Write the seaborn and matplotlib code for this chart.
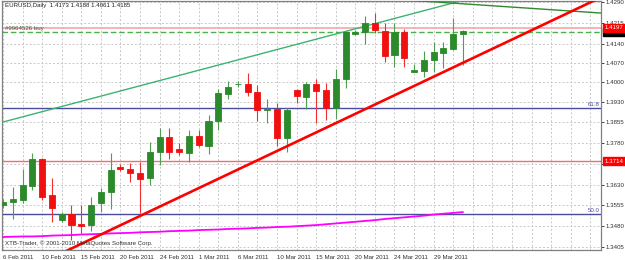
import matplotlib
matplotlib.use("Agg")
import matplotlib.pyplot as plt
import seaborn as sns
import pandas as pd
from matplotlib.transforms import blended_transform_factory

# ---------------- data ----------------
opens = [1.3557, 1.3568, 1.3575, 1.3625, 1.3723, 1.3593, 1.3502, 1.3524, 1.3488, 1.3484,
         1.3564, 1.3604, 1.3694, 1.3687, 1.3672, 1.3654, 1.3748, 1.3802, 1.3759, 1.3745,
         1.3806, 1.3770, 1.3860, 1.3958, 1.3992, 1.3994, 1.3965, 1.3900, 1.3903, 1.3799,
         1.3972, 1.3947, 1.3994, 1.3972, 1.3907, 1.4012, 1.4174, 1.4182, 1.4214, 1.4185,
         1.4099, 1.4182, 1.4037, 1.4041, 1.4080, 1.4106, 1.4120, 1.4173]
highs = [1.3579, 1.3622, 1.3687, 1.3745, 1.3726, 1.3654, 1.3531, 1.3557, 1.3557, 1.3586,
         1.3618, 1.3745, 1.3705, 1.3708, 1.3712, 1.3784, 1.3835, 1.3835, 1.3781, 1.3828,
         1.3828, 1.3882, 1.3976, 1.4005, 1.4005, 1.4034, 1.3990, 1.3940, 1.3925, 1.3907,
         1.3975, 1.4001, 1.4012, 1.3997, 1.4048, 1.4185, 1.4188, 1.4239, 1.4250, 1.4214,
         1.4214, 1.4192, 1.4066, 1.4113, 1.4145, 1.4145, 1.4232, 1.4188]
lows = [1.3546, 1.3506, 1.3564, 1.3611, 1.3575, 1.3495, 1.3495, 1.3430, 1.3455, 1.3463,
        1.3531, 1.3542, 1.3680, 1.3640, 1.3528, 1.3629, 1.3701, 1.3723, 1.3737, 1.3712,
        1.3766, 1.3741, 1.3828, 1.3940, 1.3983, 1.3950, 1.3860, 1.3853, 1.3770, 1.3748,
        1.3925, 1.3903, 1.3853, 1.3864, 1.3867, 1.3979, 1.4170, 1.4138, 1.4178, 1.4073,
        1.4055, 1.4055, 1.4037, 1.4019, 1.4037, 1.4051, 1.4117, 1.4061]
closes = [1.3568, 1.3579, 1.3629, 1.3723, 1.3586, 1.3546, 1.3524, 1.3484, 1.3481, 1.3557,
          1.3604, 1.3683, 1.3687, 1.3672, 1.3651, 1.3748, 1.3802, 1.3748, 1.3748, 1.3806,
          1.3773, 1.3860, 1.3961, 1.3983, 1.3995, 1.3965, 1.3900, 1.3904, 1.3799, 1.3900,
          1.3950, 1.3994, 1.3968, 1.3907, 1.4012, 1.4182, 1.4182, 1.4214, 1.4189, 1.4095,
          1.4182, 1.4088, 1.4044, 1.4080, 1.4109, 1.4124, 1.4174, 1.4185]
ma_values = [1.3441, 1.3442, 1.3443, 1.3443, 1.3444, 1.3446, 1.3447, 1.3448, 1.3450, 1.3451,
             1.3452, 1.3454, 1.3455, 1.3456, 1.3458, 1.3459, 1.3460, 1.3462, 1.3463, 1.3464,
             1.3466, 1.3467, 1.3468, 1.3470, 1.3471, 1.3472, 1.3474, 1.3475, 1.3477, 1.3478,
             1.3480, 1.3482, 1.3484, 1.3487, 1.3490, 1.3493, 1.3496, 1.3499, 1.3502, 1.3506,
             1.3509, 1.3512, 1.3515, 1.3518, 1.3522, 1.3525, 1.3528, 1.3531]

date_label_bars = [0, 4, 8, 12, 16, 20, 24, 28, 32, 36, 40, 44]
date_labels = ["6 Feb 2011", "10 Feb 2011", "15 Feb 2011", "20 Feb 2011", "24 Feb 2011",
               "1 Mar 2011", "6 Mar 2011", "10 Mar 2011", "15 Mar 2011", "20 Mar 2011",
               "24 Mar 2011", "29 Mar 2011"]
ytick_values = [1.4290, 1.4215, 1.4140, 1.4070, 1.4000, 1.3930, 1.3855, 1.3780,
                1.3705, 1.3630, 1.3555, 1.3480, 1.3405]
ytick_labels = ["1.4290", "1.4215", "1.4140", "1.4070", "1.4000", "1.3930", "1.3855", "1.3780",
                "", "1.3630", "1.3555", "1.3480", "1.3405"]

header_text = "EURUSD,Daily  1.4173 1.4188 1.4061 1.4185"
order_text = "#9964526 buy"
copyright_text = "XTB-Trader, \u00a9 2001-2010 MetaQuotes Software Corp."

hline_upper = 1.4197
hline_lower = 1.3714
order_price = 1.4182
bid_price = 1.4185
fib_levels = [1.3907, 1.3524]
fib_labels = ["61.8", "50.0"]

red_trend_bars = [5.0, 62.0]
red_trend_prices = [1.3366, 1.4322]
green_trend_bars = [-1.0, 47.0]
green_trend_prices = [1.3847, 1.4296]
dkgreen_trend_bars = [40.0, 62.0]
dkgreen_trend_prices = [1.4300, 1.4248]

# ---------------- style ----------------
sns.set_style("white")
plt.rcParams["font.family"] = ["Liberation Sans", "DejaVu Sans"]
FS = 4.4

W, H = 625, 260
fig = plt.figure(figsize=(W / 100, H / 100), dpi=100)
ax = fig.add_axes([2 / W, 10 / H, 599 / W, 249 / H])

ax.set_xlim(-0.1, 61.1)
ax.set_ylim(1.33940, 1.42936)

df = pd.DataFrame({"bar": list(range(len(opens))), "open": opens, "high": highs,
                   "low": lows, "close": closes, "ma": ma_values})
up_col = "#2b8a2b"
dn_col = "#f01010"
colors = [up_col if c >= o else dn_col for o, c in zip(df["open"], df["close"])]
wick_colors = ["#4f9f4f" if c >= o else "#f03030" for o, c in zip(df["open"], df["close"])]

# grid
grid_kw = dict(color="#c8c8c8", lw=0.7, linestyle=(0, (2, 2)))
ax.set_xticks(list(range(0, 62, 2)), minor=True)
ax.set_xticks(date_label_bars)
ax.set_xticklabels(date_labels, ha="left", fontsize=FS)
ax.grid(True, which="both", axis="x", **grid_kw)
ax.set_yticks(ytick_values)
ax.set_yticklabels(ytick_labels, fontsize=FS)
ax.grid(True, which="major", axis="y", **grid_kw)
ax.set_axisbelow(True)

ax.yaxis.tick_right()
ax.tick_params(axis="y", which="major", length=2, width=0.6, pad=1.5, colors="#202020",
               labelcolor="#303030")
ax.tick_params(axis="x", which="major", length=2, width=0.6, pad=1.5, colors="#202020",
               labelcolor="#303030")
ax.tick_params(which="minor", length=0)
for s in ax.spines.values():
    s.set_color("#808080")
    s.set_linewidth(0.9)

# horizontal levels
ax.axhline(hline_upper, color="#f4a0a0", lw=1.1, zorder=2)
ax.axhline(hline_lower, color="#f07070", lw=1.0, zorder=2)
ax.axhline(order_price, color="#4caf50", lw=1.0, linestyle=(0, (4, 2)), zorder=2)
bt = blended_transform_factory(ax.transAxes, ax.transData)
for lvl, lab in zip(fib_levels, fib_labels):
    ax.axhline(lvl, color="#4a4a9e", lw=1.0, zorder=2)
    ax.text(0.997, lvl + 0.0004, lab, transform=bt,
            ha="right", va="bottom", fontsize=FS, color="#4a4a9e")

# trend lines and MA
sns.lineplot(x=green_trend_bars, y=green_trend_prices, ax=ax, color="#3cb371", lw=1.0, zorder=3)
sns.lineplot(x=dkgreen_trend_bars, y=dkgreen_trend_prices, ax=ax, color="#2e8b2e", lw=1.0, zorder=3)
sns.lineplot(data=df, x="bar", y="ma", ax=ax, color="#ff00ff", lw=1.3, zorder=3)

# candles
ax.vlines(df["bar"], df["low"], df["high"], colors=wick_colors, lw=0.8, zorder=4)
bottoms = [min(o, c) for o, c in zip(opens, closes)]
heights = [abs(c - o) for o, c in zip(opens, closes)]
ax.bar(df["bar"], heights, bottom=bottoms, width=0.62, color=colors, edgecolor=colors,
       linewidth=0.6, zorder=5)

sns.lineplot(x=red_trend_bars, y=red_trend_prices, ax=ax, color="#ff0000", lw=1.9, zorder=6)

ax.set_xlabel("")
ax.set_ylabel("")

# price boxes on the axis
ax.text(1.0 + 3.5 / 599, bid_price - 0.0002, "1.4185", transform=bt, ha="left", va="center",
        fontsize=FS, color="white", clip_on=False, zorder=7,
        bbox=dict(boxstyle="square,pad=0.25", fc="black", ec="black"))
ax.text(1.0 + 3.5 / 599, hline_upper, "1.4197", transform=bt, ha="left", va="center",
        fontsize=FS, color="white", clip_on=False, zorder=8,
        bbox=dict(boxstyle="square,pad=0.25", fc="#ff0000", ec="#ff0000"))
ax.text(1.0 + 3.5 / 599, hline_lower, "1.3714", transform=bt, ha="left", va="center",
        fontsize=FS, color="white", clip_on=False, zorder=8,
        bbox=dict(boxstyle="square,pad=0.25", fc="#ff0000", ec="#ff0000"))

# texts
fig.text(5 / W, 1 - 6 / H, header_text, ha="left", va="center", fontsize=FS, color="#202020")
ax.text(0.005, order_price + 0.0002, order_text, transform=bt, ha="left", va="bottom",
        fontsize=FS, color="#3a5a3a")
fig.text(5 / W, 1 - 243 / H, copyright_text, ha="left", va="center", fontsize=FS, color="#303030")

fig.savefig("out.png", dpi=100)
